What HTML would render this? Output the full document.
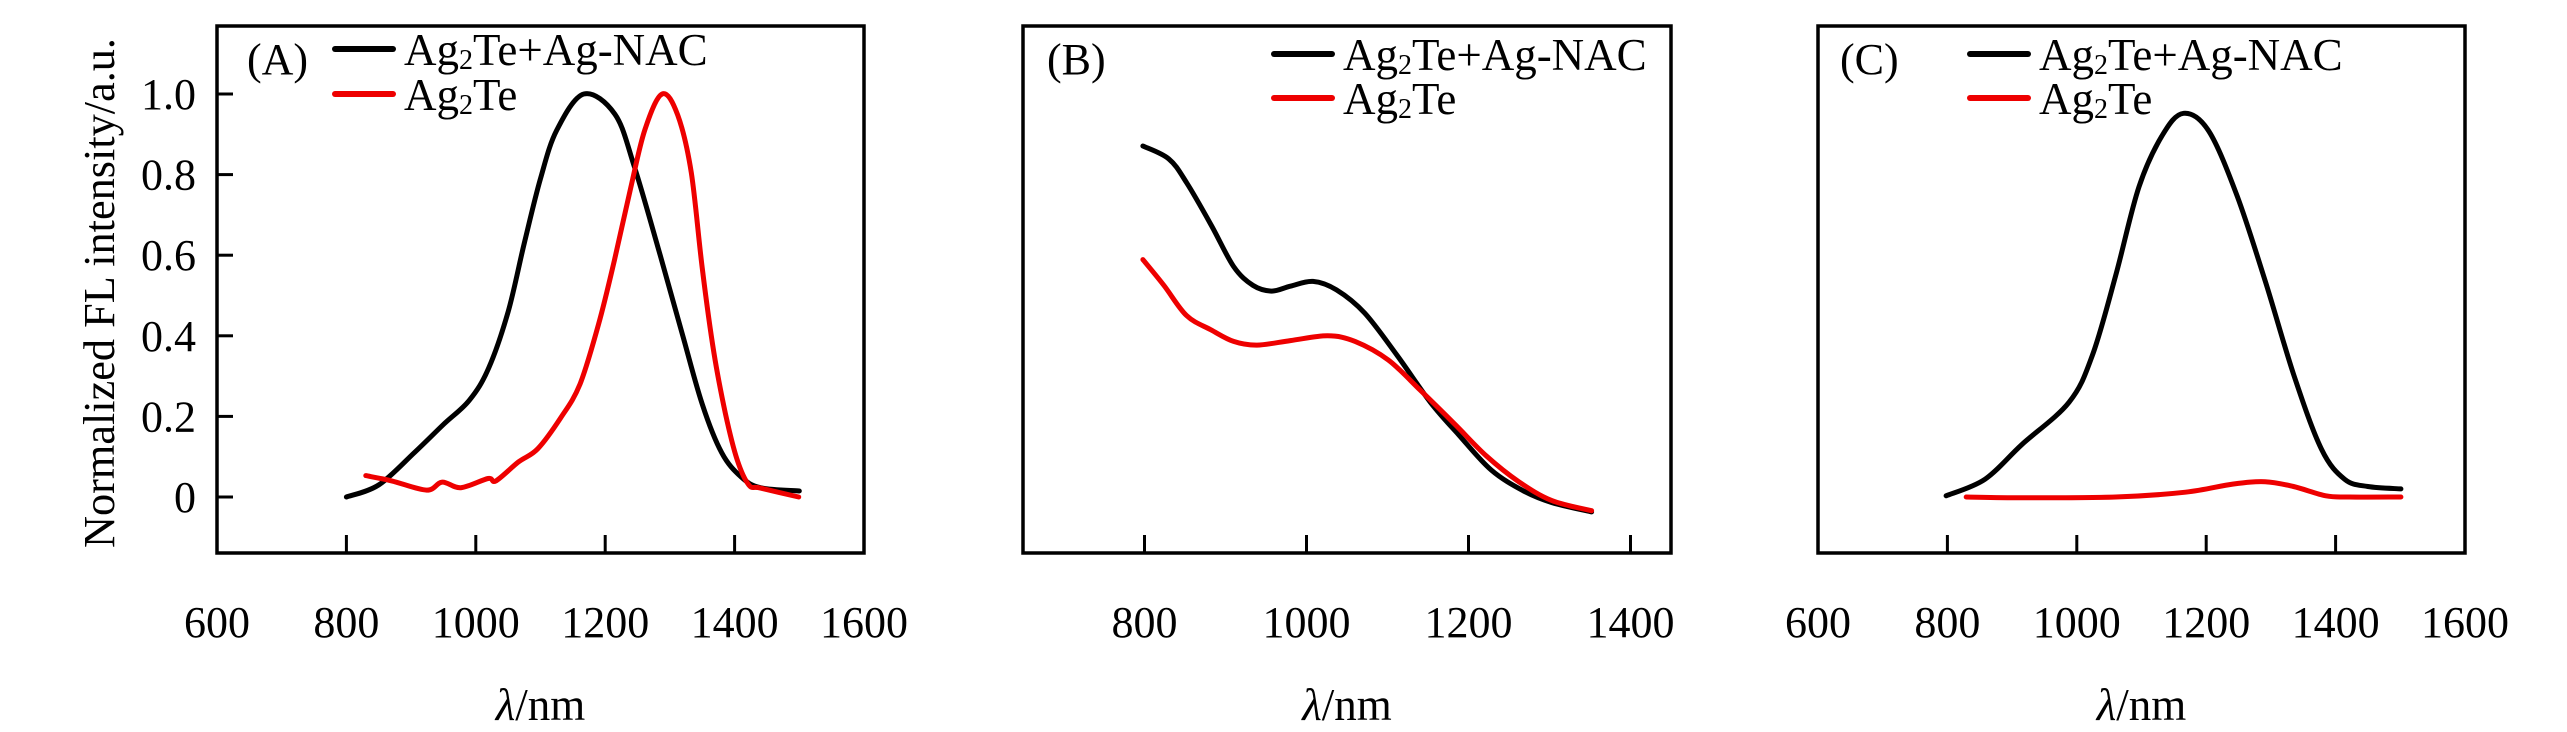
<!DOCTYPE html>
<html><head><meta charset="utf-8"><style>
html,body{margin:0;padding:0;background:#fff;}
svg{display:block;font-family:"Liberation Serif","Times New Roman",serif;}
</style></head><body>
<svg id="fig" width="2567" height="732" viewBox="0 0 2567 732" xmlns="http://www.w3.org/2000/svg"></svg>
<script>
// ---- data ----
const aBlackX=[800,850,905,950,990,1020,1050,1075,1100,1125,1167,1215,1245,1285,1320,1350,1380,1410,1440,1500];
const aBlackY=[0,0.03,0.11,0.18,0.24,0.32,0.46,0.63,0.79,0.91,1.0,0.95,0.82,0.6,0.4,0.23,0.11,0.05,0.023,0.015];
const aRedX=[830,870,924,948,977,1019,1031,1066,1096,1131,1161,1190,1214,1238,1261,1288,1312,1333,1350,1368,1386,1404,1422,1440,1499];
const aRedY=[0.053,0.04,0.017,0.037,0.023,0.046,0.04,0.087,0.12,0.196,0.28,0.43,0.586,0.757,0.91,1.0,0.948,0.805,0.567,0.358,0.206,0.092,0.03,0.022,0];
const bBlackX=[798,830,852,882,910,934,957,980,1008,1037,1072,1112,1153,1188,1228,1268,1303,1352];
const bBlackY=[0.871,0.839,0.78,0.676,0.572,0.525,0.511,0.523,0.535,0.514,0.456,0.351,0.235,0.154,0.067,0.015,-0.014,-0.037];
const bRedX=[798,824,852,882,910,939,980,1026,1060,1101,1141,1182,1222,1262,1303,1352];
const bRedY=[0.589,0.525,0.45,0.415,0.386,0.377,0.388,0.4,0.386,0.34,0.264,0.183,0.102,0.038,-0.009,-0.034];
const cBlackX=[798,858,915,988,1024,1060,1096,1132,1165,1204,1248,1291,1335,1378,1414,1450,1501];
const cBlackY=[0.003,0.044,0.13,0.235,0.351,0.549,0.769,0.897,0.952,0.908,0.746,0.537,0.305,0.119,0.044,0.026,0.02];
const cRedX=[829,915,1060,1168,1241,1291,1335,1385,1421,1501];
const cRedY=[0,-0.002,0,0.012,0.032,0.038,0.026,0.003,0,0];
const yTickVals=[0,0.2,0.4,0.6,0.8,1.0];
const yTickLabels=["0","0.2","0.4","0.6","0.8","1.0"];
const xTicksAC=[600,800,1000,1200,1400,1600];
const xTicksB=[800,1000,1200,1400];

const NS="http://www.w3.org/2000/svg";
const svg=document.getElementById('fig');
function mk(tag,attrs,parent){const e=document.createElementNS(NS,tag);for(const k in attrs)e.setAttribute(k,attrs[k]);(parent||svg).appendChild(e);return e;}
const TOP=26,BOT=553,Y0=497,YPU=403;
function yS(v){return Y0-v*YPU;}
function smooth(pts){let d="M"+pts[0][0].toFixed(1)+","+pts[0][1].toFixed(1);
 for(let i=0;i<pts.length-1;i++){const p0=pts[Math.max(0,i-1)],p1=pts[i],p2=pts[i+1],p3=pts[Math.min(pts.length-1,i+2)];
  const c1=[p1[0]+(p2[0]-p0[0])/6,p1[1]+(p2[1]-p0[1])/6],c2=[p2[0]-(p3[0]-p1[0])/6,p2[1]-(p3[1]-p1[1])/6];
  d+=" C"+c1[0].toFixed(1)+","+c1[1].toFixed(1)+" "+c2[0].toFixed(1)+","+c2[1].toFixed(1)+" "+p2[0].toFixed(1)+","+p2[1].toFixed(1);}
 return d;}

function panel(id,L,R,xmin,xmax,xticks,series,labelX,legLineX,legTextX,legY1,legY2,showY){
 const g=mk('g',{});
 
 
 const xS=v=>L+(v-xmin)/(xmax-xmin)*(R-L);
 const fr=mk('rect',{x:L,y:TOP,width:R-L,height:BOT-TOP,fill:'none',stroke:'#000','stroke-width':3.5},g);
 
 
 xticks.forEach(t=>{
  if(t>xmin&&t<xmax){const tk=mk('line',{x1:xS(t),x2:xS(t),y1:BOT,y2:BOT-18,stroke:'#000','stroke-width':3},g);
   
   }
  const tl=mk('text',{x:xS(t),y:637,'font-size':44,'text-anchor':'middle'},g);tl.textContent=t;
  
  
 });
 const xt=mk('text',{x:(L+R)/2,y:720,'font-size':45,'text-anchor':'middle'},g);
 xt.innerHTML='<tspan font-style="italic">λ</tspan>/nm';
 
 
 if(showY){
  yTickVals.forEach((v,i)=>{
   const tk=mk('line',{x1:L,x2:L+16,y1:yS(v),y2:yS(v),stroke:'#000','stroke-width':3},g);
   
   
   const tl=mk('text',{x:196,y:yS(v)+15,'font-size':44,'text-anchor':'end'},g);tl.textContent=yTickLabels[i];
   
   
  });
  const yt=mk('text',{x:0,y:0,'font-size':44,'text-anchor':'middle',transform:'translate(114,293) rotate(-90)',textLength:510,lengthAdjust:'spacingAndGlyphs'},g);
  yt.textContent='Normalized FL intensity/a.u.';
  
  
 }
 series.forEach(s=>{
  const pts=s.x.map((v,i)=>[xS(v),yS(s.y[i])]);
  const p=mk('path',{d:smooth(pts),fill:'none',stroke:s.c,'stroke-width':5,'stroke-linejoin':'round','stroke-linecap':'round'},g);
  
  
 });
 const pl=mk('text',{x:labelX,y:74,'font-size':44},g);pl.textContent='('+id+')';
 
 
 const leg=[['#000','Ag','Te+Ag-NAC',legY1],['#e00','Ag','Te',legY2]];
 leg.forEach((l,i)=>{
  const ln=mk('line',{x1:legLineX,x2:legLineX+58,y1:l[3]-16,y2:l[3]-16,stroke:l[0],'stroke-width':6,'stroke-linecap':'round'},g);
  
  
  const t=mk('text',{x:legTextX,y:l[3],'font-size':45},g);
  t.innerHTML=l[1]+'<tspan font-size="28" dy="4">2</tspan><tspan dy="-4">'+l[2]+'</tspan>';
  
  
 });
}
panel('A',217,864,600,1600,xTicksAC,[
 {x:aBlackX,y:aBlackY,c:'#000',n:'series-ag2te-ag-nac'},
 {x:aRedX,y:aRedY,c:'#e00',n:'series-ag2te'}],247,335,404,65,110,true);
panel('B',1023,1671,650,1450,xTicksB,[
 {x:bBlackX,y:bBlackY,c:'#000',n:'series-ag2te-ag-nac'},
 {x:bRedX,y:bRedY,c:'#e00',n:'series-ag2te'}],1047,1274,1343,70,114,false);
panel('C',1818,2465,600,1600,xTicksAC,[
 {x:cBlackX,y:cBlackY,c:'#000',n:'series-ag2te-ag-nac'},
 {x:cRedX,y:cRedY,c:'#e00',n:'series-ag2te'}],1840,1970,2039,70,114,false);
</script>
</body></html>
